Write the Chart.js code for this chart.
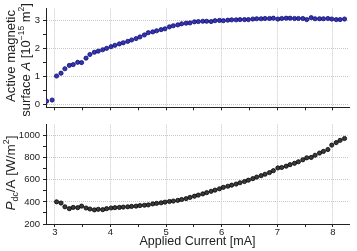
<!DOCTYPE html>
<html lang="en">
<head>
    <meta charset="UTF-8">
    <title>Active magnetic surface and P/A vs applied current</title>
    <script src="https://cdn.jsdelivr.net/npm/chart.js"></script>
    <style>
        body { margin: 0; background: #fff; }
        .panel { position: absolute; left: 0; width: 357px; }
        #topPanel { top: 0; height: 116px; }
        #bottomPanel { top: 116px; height: 135px; }
    </style>
</head>
<body>
    <div class="panel" id="topPanel"><canvas id="chartA" width="357" height="116"></canvas></div>
    <div class="panel" id="bottomPanel"><canvas id="chartP" width="357" height="135"></canvas></div>

    <script>
        // applied current [mA]
        const current = [
            3.03, 3.11, 3.18, 3.26, 3.33, 3.41, 3.48, 3.56, 3.63, 3.71,
            3.78, 3.86, 3.93, 4.01, 4.08, 4.16, 4.23, 4.31, 4.38, 4.46,
            4.53, 4.61, 4.68, 4.76, 4.83, 4.91, 4.98, 5.06, 5.13, 5.21,
            5.28, 5.36, 5.43, 5.51, 5.58, 5.66, 5.73, 5.81, 5.88, 5.96,
            6.03, 6.11, 6.18, 6.26, 6.33, 6.41, 6.48, 6.56, 6.63, 6.71,
            6.78, 6.86, 6.93, 7.01, 7.08, 7.16, 7.23, 7.31, 7.38, 7.46,
            7.53, 7.61, 7.68, 7.76, 7.83, 7.91, 7.98, 8.06, 8.13, 8.21
        ];
        // two low-current points only shown in the upper panel
        const currentLow = [2.85, 2.95];
        const areaLow = [0.12, 0.16];

        // active magnetic surface A [1e-15 m^2]
        const area = [
            1.02, 1.12, 1.28, 1.40, 1.43, 1.51, 1.50, 1.66, 1.79, 1.87,
            1.91, 1.96, 2.01, 2.07, 2.12, 2.17, 2.21, 2.26, 2.31, 2.36,
            2.42, 2.49, 2.57, 2.60, 2.64, 2.68, 2.71, 2.78, 2.82, 2.85,
            2.89, 2.91, 2.92, 2.96, 2.97, 2.98, 2.98, 2.97, 3.00, 3.01,
            3.00, 3.02, 3.03, 3.03, 3.04, 3.04, 3.04, 3.06, 3.07, 3.07,
            3.08, 3.08, 3.09, 3.06, 3.08, 3.09, 3.09, 3.08, 3.08, 3.08,
            3.04, 3.11, 3.07, 3.07, 3.07, 3.08, 3.06, 3.04, 3.04, 3.06
        ];

        // Pdc/A [W/m^2]
        const powerDensity = [
            401, 390, 356, 339, 350, 348, 362, 345, 336, 328,
            333, 330, 339, 345, 348, 350, 353, 356, 359, 362,
            367, 370, 373, 382, 387, 392, 398, 404, 408, 414,
            422, 430, 441, 452, 462, 473, 484, 496, 507, 519,
            532, 542, 552, 562, 574, 585, 597, 611, 625, 638,
            651, 666, 683, 708, 712, 724, 738, 750, 764, 782,
            800, 803, 823, 843, 858, 875, 915, 938, 958, 975
        ];

        const currentTicks = [3, 3.5, 4, 4.5, 5, 5.5, 6, 6.5, 7, 7.5, 8];
        const areaTicks = [0, 0.5, 1, 1.5, 2, 2.5, 3];
        const powerTicks = [200, 300, 400, 500, 600, 700, 800, 900, 1000];

        const FONT = "'Liberation Sans', Arial, sans-serif";
        const INK = '#222';

        function axis(min, max, tickValues, isMajor, showLabels, pad) {
            return {
                type: 'linear',
                min: min,
                max: max,
                afterBuildTicks: s => { s.ticks = tickValues.map(v => ({ value: v })); },
                grid: {
                    color: c => (c.tick && isMajor(c.tick.value) ? '#c8c8c8' : 'rgba(0,0,0,0)'),
                    tickColor: INK,
                    tickLength: 3,
                    lineWidth: 1,
                    tickWidth: 1
                },
                border: { color: INK, width: 1, dash: [1, 1] },
                ticks: {
                    display: showLabels,
                    autoSkip: false,
                    maxRotation: 0,
                    padding: pad,
                    color: INK,
                    font: { family: FONT, size: 9.5 },
                    callback: v => (isMajor(v) ? String(v) : '')
                }
            };
        }

        // rotated axis title with italic / sub / superscript pieces
        function drawRotated(ctx, runs, cx, cy, size) {
            ctx.save();
            ctx.translate(cx, cy);
            ctx.rotate(-Math.PI / 2);
            ctx.fillStyle = INK;
            ctx.textBaseline = 'alphabetic';
            const fontOf = r => {
                const sz = r.pos ? size * 0.65 : size;
                return (r.italic ? 'italic ' : '') + sz + 'px ' + FONT;
            };
            let total = 0;
            runs.forEach(r => { ctx.font = fontOf(r); r.w = ctx.measureText(r.t).width; total += r.w; });
            let x = -total / 2;
            runs.forEach(r => {
                ctx.font = fontOf(r);
                let dy = size * 0.36;
                if (r.pos === 'sup') dy -= size * 0.42;
                if (r.pos === 'sub') dy += size * 0.2;
                ctx.fillText(r.t, x, dy);
                x += r.w;
            });
            ctx.restore();
        }

        const topTitle = {
            id: 'topTitle',
            afterDraw(chart) {
                const ctx = chart.ctx;
                drawRotated(ctx, [{ t: 'Active magnetic' }], 10, 56, 13);
                drawRotated(ctx, [
                    { t: 'surface ' }, { t: 'A', italic: true }, { t: ' [10' },
                    { t: '\u221215', pos: 'sup' }, { t: ' m' }, { t: '2', pos: 'sup' }, { t: ']' }
                ], 25, 60, 13);
            }
        };

        const bottomTitle = {
            id: 'bottomTitle',
            afterDraw(chart) {
                const ctx = chart.ctx;
                drawRotated(ctx, [
                    { t: 'P', italic: true }, { t: 'dc', pos: 'sub' }, { t: '/A [W/m' },
                    { t: '2', pos: 'sup' }, { t: ']' }
                ], 10, 57, 13.5);
                const a = chart.chartArea;
                ctx.save();
                ctx.fillStyle = INK;
                ctx.font = '12.5px ' + FONT;
                ctx.textAlign = 'center';
                ctx.textBaseline = 'alphabetic';
                ctx.fillText('Applied Current [mA]', (a.left + a.right) / 2, 129);
                ctx.restore();
            }
        };

        const isHalfMajor = v => Math.abs(v - Math.round(v)) < 1e-6;
        const isPowerMajor = v => v % 200 === 0;

        const topPoints = currentLow.map((x, i) => ({ x: x, y: areaLow[i] }))
            .concat(current.map((x, i) => ({ x: x, y: area[i] })));
        const bottomPoints = current.map((x, i) => ({ x: x, y: powerDensity[i] }));

        function baseOptions(padTop, yAxis, xLabels, xHeight) {
            const xAxis = axis(2.84, 8.29, currentTicks, isHalfMajor, xLabels, 0);
            xAxis.afterFit = s => { s.height = xHeight; };
            yAxis.afterFit = s => { s.width = 46; };
            return {
                responsive: false,
                animation: false,
                devicePixelRatio: 1,
                layout: { padding: { top: padTop, right: 8, left: 0, bottom: 0 } },
                plugins: { legend: { display: false }, tooltip: { enabled: false } },
                scales: { x: xAxis, y: yAxis }
            };
        }

        new Chart(document.getElementById('chartA'), {
            type: 'scatter',
            data: {
                datasets: [{
                    data: topPoints,
                    pointRadius: 2.1,
                    pointBackgroundColor: '#3434b4',
                    pointBorderColor: '#0c0c6e',
                    pointBorderWidth: 0.8
                }]
            },
            options: baseOptions(4, axis(-0.1, 3.43, areaTicks, isHalfMajor, true, 3), false, 6),
            plugins: [topTitle]
        });

        new Chart(document.getElementById('chartP'), {
            type: 'scatter',
            data: {
                datasets: [{
                    data: bottomPoints,
                    pointRadius: 2.1,
                    pointBackgroundColor: '#3a3a3a',
                    pointBorderColor: '#000',
                    pointBorderWidth: 0.8
                }]
            },
            options: baseOptions(2, axis(200, 1100, powerTicks, isPowerMajor, true, 3), true, 27),
            plugins: [bottomTitle]
        });
    </script>
</body>
</html>
